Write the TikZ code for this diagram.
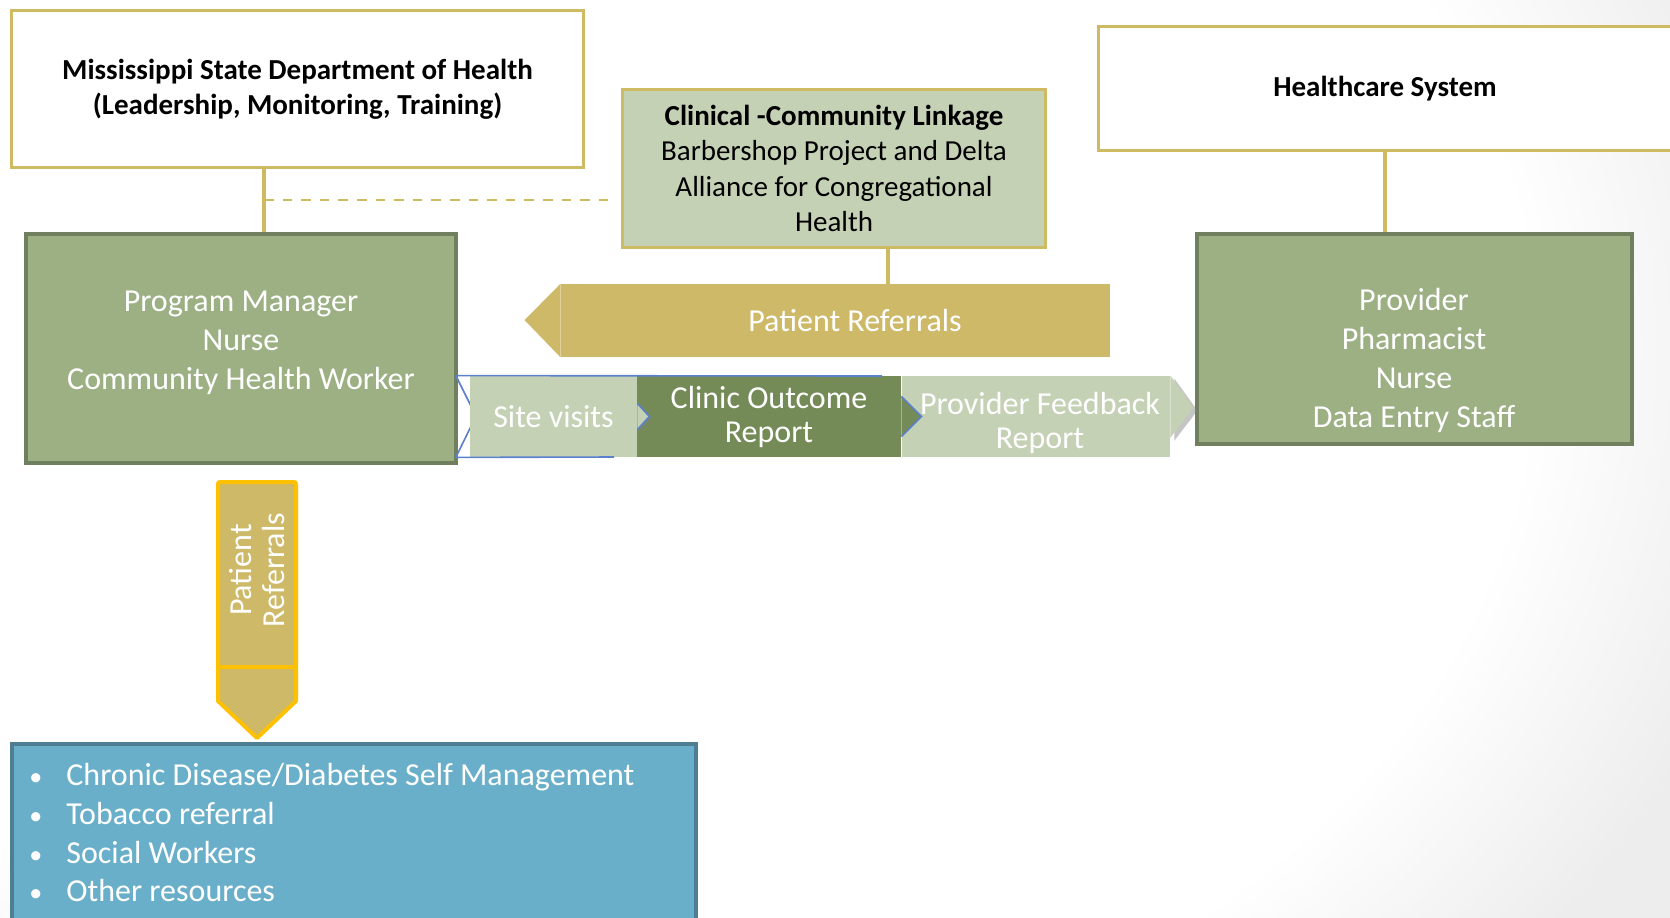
\documentclass[tikz,border=0pt]{standalone}
\usepackage{fontspec}
\setmainfont{Carlito}
\usetikzlibrary{positioning,shadows}

\definecolor{linkgold}{RGB}{205,186,99}
\definecolor{arrowgold}{RGB}{206,185,104}
\definecolor{signyellow}{RGB}{255,192,0}
\definecolor{boxgreen}{RGB}{156,176,132}
\definecolor{boxgreenline}{RGB}{112,128,94}
\definecolor{palegreen}{RGB}{197,209,181}
\definecolor{darkgreen}{RGB}{117,139,87}
\definecolor{flowblue}{RGB}{91,128,205}
\definecolor{resblue}{RGB}{106,175,202}
\definecolor{resblueline}{RGB}{78,126,146}

\pgfdeclareradialshading{bgglow}{\pgfpoint{0bp}{0bp}}{color(0bp)=(white); color(20bp)=(white); color(26bp)=(black!7); color(50bp)=(black!7)}
\newcommand{\resbullet}{\makebox[18.5pt][l]{\fontsize{13}{13}\selectfont\textbullet}}

\begin{document}
\begin{tikzpicture}[x=0.5pt,y=-0.5pt,
  wbox/.style={draw=linkgold,line width=1.5pt,fill=white,align=center,inner sep=0pt,
    font=\bfseries\fontsize{14.5}{17.5}\selectfont},
  gbox/.style={draw=boxgreenline,line width=2pt,fill=boxgreen,inner sep=0pt},
  wtext/.style={text=white,align=center,inner sep=0pt,font=\fontsize{16}{19.5}\selectfont},
  chev/.style={minimum height=40.5pt,inner sep=0pt,text=white,align=center,
    font=\fontsize{16}{17}\selectfont},
  link/.style={linkgold,line width=2pt},
  edge/.style={flowblue,line width=0.8pt}]

  % 背景
  \useasboundingbox (0,0) rectangle (1670,917);
  \shade[shading=bgglow] (-450,-550) rectangle (1750,1250);

  % 上段の枠
  \node[wbox,minimum width=286pt,minimum height=78.5pt] (msdh) at (297.5,89)
    {Mississippi State Department of Health\\(Leadership, Monitoring, Training)};
  \node[wbox,fill=palegreen,minimum width=211.5pt,minimum height=79pt,
    font=\fontsize{14.5}{17.7}\selectfont] (clin) at (834,168.5)
    {\textbf{Clinical -Community Linkage}\\Barbershop Project and Delta\\Alliance for Congregational\\Health};
  \node[wbox,minimum width=286.5pt,minimum height=62pt] (hcs) at (1385,88.5) {Healthcare System};

  % 緑の枠
  \node[gbox,minimum width=215pt,minimum height=114.5pt] (pm) at (241,348.5) {};
  \node[wtext] (pmtxt) at (241,343) {Program Manager\\Nurse\\Community Health Worker};
  \node[gbox,minimum width=217.5pt,minimum height=105pt] (prov) at (1414.5,339) {};
  \node[wtext] (provtxt) at (1414,360) {Provider\\Pharmacist\\Nurse\\Data Entry Staff};

  % 紹介 (左向き)
  \node[fill=arrowgold,minimum width=274.5pt,minimum height=36.5pt,inner sep=0pt] (prH) at (835.5,320.5) {};
  \fill[arrowgold] (prH.north west) -- ++(-36,36.5) -- (prH.south west) -- cycle;
  \node[wtext] (prHtxt) at (855,320) {Patient Referrals};

  % 接続線
  \coordinate (mlink) at (264,200);
  \coordinate (clink) at (888,260);
  \draw[link] (msdh.south -| mlink) -- (pm.north -| mlink);
  \draw[linkgold,line width=1pt,dash pattern=on 4.8pt off 4.5pt] (mlink) -- ([xshift=-4.5pt]clin.west |- mlink);
  \draw[link] (clin.south -| clink) -- (prH.north -| clink);
  \draw[link] (hcs.south) -- (hcs.south |- prov.north);

  % 流れ
  \draw[edge] (456,376) -- (476,416) -- (456,457);
  \node[chev,fill=palegreen,minimum width=83.5pt] (site) at (553.5,416.5) {Site visits};
  \node[chev,fill=darkgreen,minimum width=132pt] (clinic) at (769,416.5) {Clinic Outcome\\Report};
  \draw[edge,fill=palegreen,drop shadow={shadow xshift=1.5pt,shadow yshift=-1pt,opacity=.35}]
    ([yshift=6.5pt]site.east) -- ++(12,13) -- ++(-12,13);
  \node[chev,fill=palegreen,minimum width=134pt] (fb) at (1036,416.5) {};
  \fill[palegreen,drop shadow={shadow xshift=2pt,shadow yshift=-1.5pt,opacity=.45}]
    (fb.north east) -- ++(23,32) -- ++(-23,30) -- cycle;
  \draw[edge,fill=darkgreen] ([yshift=10pt]clinic.east) -- ++(20,20) -- ++(-20,20);
  \node[chev] (fbtxt) at (1040,423) {Provider Feedback\\Report};
  \draw[edge] (site.north west) ++(-14,0) -- (882,376);
  \draw[edge] (site.south west) ++(-14,0) -- (614,457);

  % 紹介 (下向き)
  \node[draw=signyellow,line width=2pt,fill=arrowgold,rounded corners=1pt,outer sep=0pt,
    minimum width=39pt,minimum height=92.5pt] (prV) at (257,574.5) {};
  \draw[signyellow,line width=2pt,fill=arrowgold,line join=round]
    (prV.south west) -- ++(0,34) -- ++(39,37) -- ++(39,-37) -- (prV.south east) -- cycle;
  \node[wtext,rotate=90,font=\fontsize{16}{16.5}\selectfont] (prVtxt) at (257,570) {Patient\\Referrals};

  % 資源
  \node[draw=resblueline,line width=2pt,fill=resblue,minimum width=342pt,minimum height=100pt] (res) at (354,844) {};
  \node[text=white,align=left,anchor=north west,inner sep=0pt,font=\fontsize{16}{19.35}\selectfont] (restxt) at (29,763)
    {\resbullet Chronic Disease/Diabetes Self Management\\
     \resbullet Tobacco referral\\
     \resbullet Social Workers\\
     \resbullet Other resources};
\end{tikzpicture}
\end{document}
